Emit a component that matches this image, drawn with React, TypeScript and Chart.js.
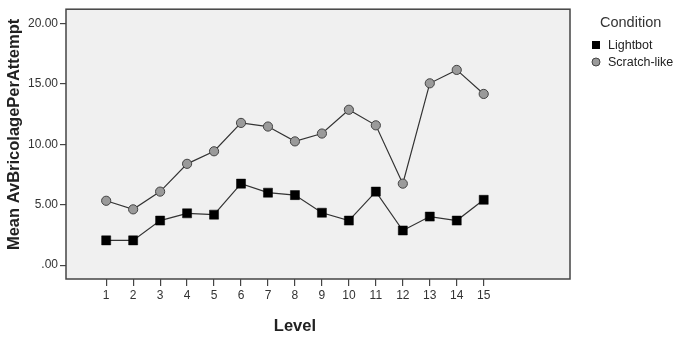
import React, { useEffect, useRef } from "react";
import { Chart, registerables } from "chart.js";

Chart.register(...registerables);

const levels = [1, 2, 3, 4, 5, 6, 7, 8, 9, 10, 11, 12, 13, 14, 15];
const lightbot = [2.05, 2.05, 3.69, 4.29, 4.18, 6.75, 6.0, 5.8, 4.34, 3.69, 6.09, 2.87, 4.02, 3.69, 5.41];
const scratchLike = [5.33, 4.62, 6.09, 8.39, 9.43, 11.78, 11.48, 10.25, 10.9, 12.87, 11.58, 6.75, 15.06, 16.17, 14.18];
const yTicks = [0, 5, 10, 15, 20];
const seriesNames = ["Lightbot", "Scratch-like"];
const legendTitle = "Condition";
const xTitle = "Level";
const yTitle = "Mean AvBricolagePerAttempt";

const FONT = "'Liberation Sans', Arial, sans-serif";

const plotBg = {
  id: "plotBg",
  beforeDraw(chart: any) {
    const { ctx, chartArea: a } = chart;
    ctx.save();
    ctx.fillStyle = "#f0f0f0";
    ctx.fillRect(a.left, a.top, a.right - a.left, a.bottom - a.top);
    ctx.restore();
  },
  afterDatasetsDraw(chart: any) {
    const { ctx, chartArea: a } = chart;
    ctx.save();
    ctx.strokeStyle = "#444";
    ctx.lineWidth = 1.5;
    ctx.strokeRect(a.left, a.top, a.right - a.left, a.bottom - a.top);
    ctx.restore();
  },
};

// Axis titles: x title centred on the tick range, y title rotated at the left edge
const axisTitles = {
  id: "axisTitles",
  afterDraw(chart: any) {
    const { ctx, scales } = chart;
    const xs = scales.x;
    const ys = scales.y;
    ctx.save();
    ctx.fillStyle = "#222";
    ctx.font = `bold 16.5px ${FONT}`;
    ctx.textAlign = "center";
    ctx.textBaseline = "middle";
    const xc = (xs.getPixelForValue(levels[0]) + xs.getPixelForValue(levels[levels.length - 1])) / 2;
    ctx.fillText(xTitle, xc, 326);
    const yc = (ys.getPixelForValue(yTicks[0]) + ys.getPixelForValue(yTicks[yTicks.length - 1])) / 2;
    ctx.translate(14, yc - 10);
    ctx.rotate(-Math.PI / 2);
    ctx.fillText(yTitle, 0, 0);
    ctx.restore();
  },
};

const customLegend = {
  id: "customLegend",
  afterDraw(chart: any) {
    const { ctx, chartArea: a } = chart;
    const x0 = a.right + 22;
    ctx.save();
    ctx.fillStyle = "#333";
    ctx.font = `14.5px ${FONT}`;
    ctx.textBaseline = "middle";
    ctx.textAlign = "left";
    ctx.fillText(legendTitle, x0 + 8, 23);
    ctx.font = `12.5px ${FONT}`;
    chart.data.datasets.forEach((ds: any, i: number) => {
      const y = 45 + i * 17;
      const mx = x0 + 4;
      ctx.fillStyle = ds.pointBackgroundColor;
      ctx.strokeStyle = ds.pointBorderColor;
      ctx.lineWidth = 1;
      if (ds.pointStyle === "rect") {
        ctx.fillRect(mx - 4, y - 4, 8, 8);
      } else {
        ctx.beginPath();
        ctx.arc(mx, y, 4, 0, Math.PI * 2);
        ctx.fill();
        ctx.stroke();
      }
      ctx.fillStyle = "#222";
      ctx.fillText(ds.label, x0 + 16, y + 1);
    });
    ctx.restore();
  },
};

export default function App() {
  const ref = useRef<HTMLCanvasElement | null>(null);
  useEffect(() => {
    document.body.style.margin = "0";
    const chart = new Chart(ref.current as HTMLCanvasElement, {
      type: "line",
      data: {
        datasets: [
          {
            label: seriesNames[0],
            data: levels.map((l, i) => ({ x: l, y: lightbot[i] })),
            borderColor: "#333",
            borderWidth: 1.2,
            pointStyle: "rect",
            pointRadius: 6.4,
            pointBackgroundColor: "#000",
            pointBorderColor: "#000",
            pointBorderWidth: 0.5,
          },
          {
            label: seriesNames[1],
            data: levels.map((l, i) => ({ x: l, y: scratchLike[i] })),
            borderColor: "#333",
            borderWidth: 1.2,
            pointStyle: "circle",
            pointRadius: 4.6,
            pointBackgroundColor: "#9a9a9a",
            pointBorderColor: "#444",
            pointBorderWidth: 1,
          },
        ],
      },
      plugins: [plotBg, axisTitles, customLegend],
      options: {
        animation: false,
        responsive: false,
        layout: { padding: { top: 6, right: 113, left: 0, bottom: 0 } },
        plugins: { legend: { display: false }, tooltip: { enabled: false } },
        scales: {
          x: {
            type: "linear",
            min: -0.49,
            max: 18.2,
            afterBuildTicks: (s: any) => {
              s.ticks = levels.map((v) => ({ value: v }));
            },
            afterFit: (s: any) => {
              s.height = 71;
            },
            ticks: {
              autoSkip: false,
              maxRotation: 0,
              color: "#333",
              font: { family: FONT, size: 12 },
              padding: 2,
              callback: (v: any) => String(v),
            },
            grid: { drawOnChartArea: false, drawTicks: true, tickLength: 7, color: "#444", lineWidth: 1.2 },
            border: { display: false },
            title: { display: false },
          },
          y: {
            type: "linear",
            min: -1.15,
            max: 21.2,
            afterBuildTicks: (s: any) => {
              s.ticks = yTicks.map((v) => ({ value: v }));
            },
            afterFit: (s: any) => {
              s.width = 66;
            },
            ticks: {
              color: "#333",
              font: { family: FONT, size: 12 },
              padding: 2,
              callback: (v: any) => (v === 0 ? ".00" : Number(v).toFixed(2)),
            },
            grid: { drawOnChartArea: false, drawTicks: true, tickLength: 6, color: "#444", lineWidth: 1.2 },
            border: { display: false },
            title: { display: false },
          },
        },
      },
    });
    return () => chart.destroy();
  }, []);
  return (
    <div style={{ position: "absolute", left: 0, top: 0, width: 683, height: 350, background: "#fff" }}>
      <canvas ref={ref} width={683} height={350} style={{ width: 683, height: 350 }} />
    </div>
  );
}
